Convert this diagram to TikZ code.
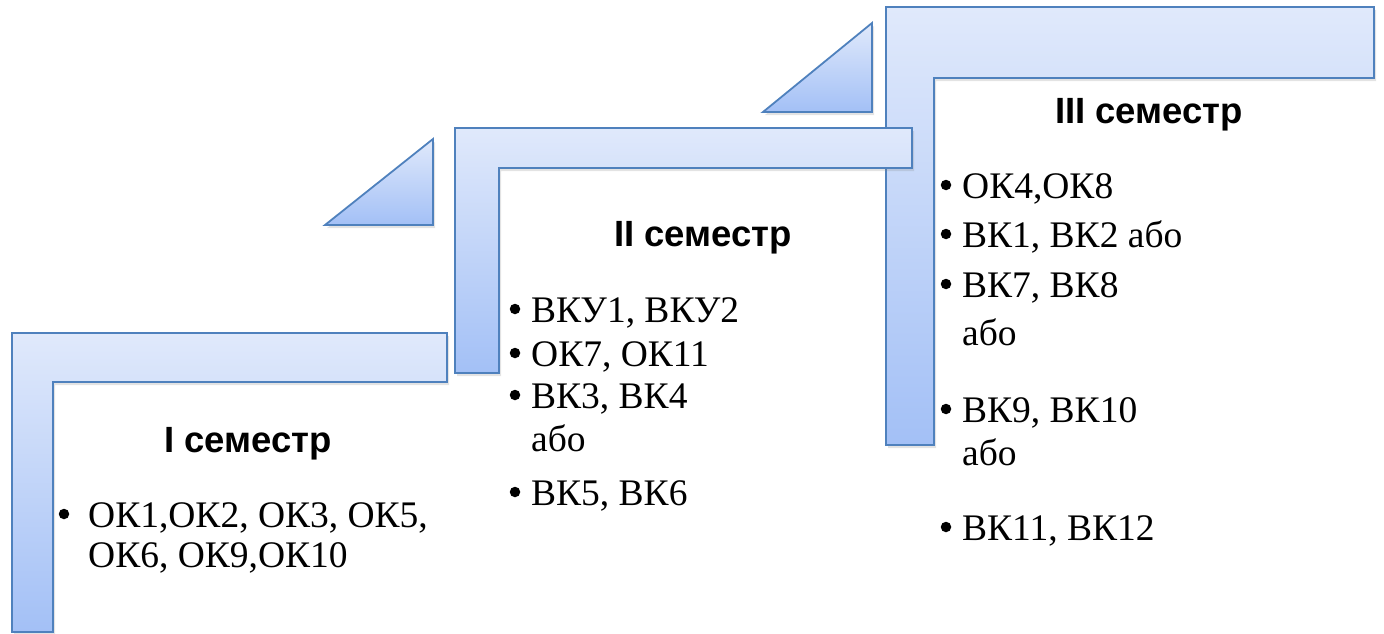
\documentclass[tikz,border=0pt]{standalone}
\usepackage{fontspec}
\setmainfont{Liberation Serif}
\newfontfamily\hdfont{Liberation Sans}
\usetikzlibrary{shadows}
\definecolor{edgeblue}{HTML}{4F81BD}
\definecolor{topc}{HTML}{E0E9FB}
\definecolor{botc}{HTML}{A3C0F6}
\tikzset{
  stepshape/.style={draw=edgeblue, line width=1.8pt, line join=miter, top color=topc, bottom color=botc,
    drop shadow={opacity=0.22, shadow xshift=2pt, shadow yshift=-3pt}},
  hdr/.style={font=\hdfont\bfseries\fontsize{36.5}{40}\selectfont, anchor=base, inner sep=0pt},
  itemtext/.style={font=\fontsize{37.5}{40}\selectfont, anchor=base west, inner sep=0pt},
  bulletdot/.style={circle, fill=black, inner sep=0pt, minimum size=10.5pt},
}
\begin{document}
\begin{tikzpicture}[x=1pt,y=-1pt]
\useasboundingbox (0,0) rectangle (1384,634);
% third step
\path[stepshape] (886,7) -- (1374,7) -- (1374,78) -- (934,78) -- (934,445) -- (886,445) -- cycle;
\path[stepshape] (763,112) -- (872,112) -- (872,23) -- cycle;
% second step
\path[stepshape] (455,128) -- (912,128) -- (912,168) -- (499,168) -- (499,373) -- (455,373) -- cycle;
\path[stepshape] (325,225) -- (433,225) -- (433,139) -- cycle;
% first step
\path[stepshape] (12,333) -- (447,333) -- (447,382) -- (53,382) -- (53,632) -- (12,632) -- cycle;

% column 1
\node[hdr] (h1) at (248,452) {I семестр};
\node[bulletdot] (b11) at (64,514) {};
\node[itemtext] (t11) at (88,527) {ОК1,ОК2, ОК3, ОК5,};
\node[itemtext] (t12) at (88,567) {ОК6, ОК9,ОК10};

% column 2
\node[hdr] (h2) at (703,246) {II семестр};
\node[bulletdot] (b21) at (515,309) {};
\node[itemtext] (t21) at (531,322) {ВКУ1, ВКУ2};
\node[bulletdot] (b22) at (515,353) {};
\node[itemtext] (t22) at (531,366) {ОК7, ОК11};
\node[bulletdot] (b23) at (515,395) {};
\node[itemtext] (t23) at (531,408) {ВК3, ВК4};
\node[itemtext] (t24) at (531,451) {або};
\node[bulletdot] (b25) at (515,492) {};
\node[itemtext] (t25) at (531,505) {ВК5, ВК6};

% column 3
\node[hdr] (h3) at (1149,123) {III семестр};
\node[bulletdot] (b31) at (946,185) {};
\node[itemtext] (t31) at (962,198) {ОК4,ОК8};
\node[bulletdot] (b32) at (946,234) {};
\node[itemtext] (t32) at (962,247) {ВК1, ВК2 або};
\node[bulletdot] (b33) at (946,284) {};
\node[itemtext] (t33) at (962,297) {ВК7, ВК8};
\node[itemtext] (t34) at (962,345) {або};
\node[bulletdot] (b35) at (946,409) {};
\node[itemtext] (t35) at (962,422) {ВК9, ВК10};
\node[itemtext] (t36) at (962,465) {або};
\node[bulletdot] (b37) at (946,527) {};
\node[itemtext] (t37) at (962,540) {ВК11, ВК12};
\end{tikzpicture}
\end{document}
